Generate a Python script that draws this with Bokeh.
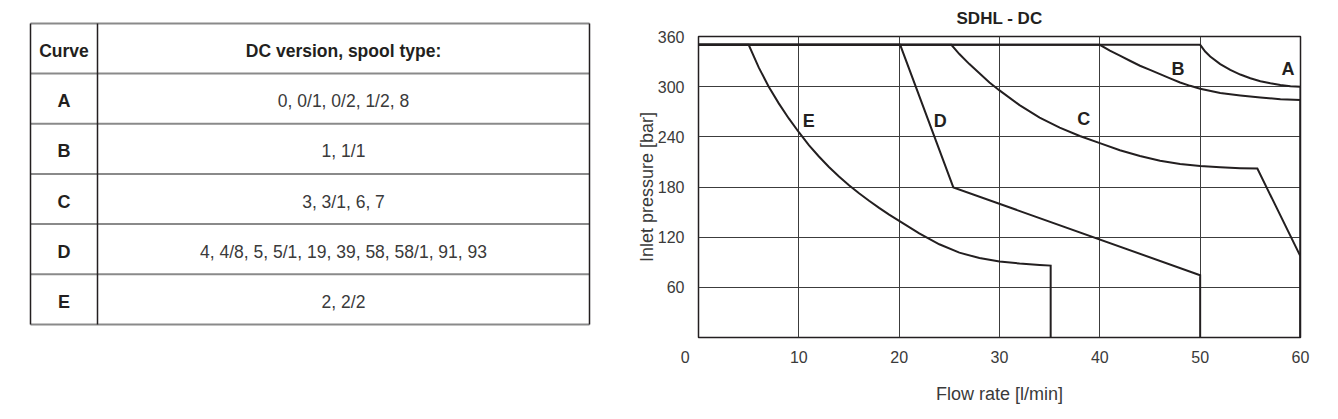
from bokeh.plotting import figure
from bokeh.models import Range1d, FixedTicker, ColumnDataSource
from bokeh.layouts import row
from bokeh.core.properties import value
from bokeh.embed import file_html
from bokeh.resources import INLINE

# ---------------- data ----------------
table_header = ["Curve", "DC version, spool type:"]
table_curves = ["A", "B", "C", "D", "E"]
table_spools = ["0, 0/1, 0/2, 1/2, 8",
                "1, 1/1",
                "3, 3/1, 6, 7",
                "4, 4/8, 5, 5/1, 19, 39, 58, 58/1, 91, 93",
                "2, 2/2"]

chart_title = "SDHL - DC"
x_label = "Flow rate [l/min]"
y_label = "Inlet pressure [bar]"
x_ticks = [0, 10, 20, 30, 40, 50, 60]
y_ticks = [60, 120, 180, 240, 300, 360]

A_x = [0, 50, 50.5, 51, 52, 53, 54, 55, 56, 57, 58, 59, 60, 60]
A_y = [350, 350, 342, 336, 327, 320, 314.5, 310, 306.5, 304, 302, 300.6, 300, 0]

B_x = [0, 40, 41, 42, 43, 44, 45, 46, 47, 48, 49, 50, 52, 54, 56, 58, 60, 60]
B_y = [350, 350, 343, 337, 331, 325, 320, 315, 310, 305, 301, 297.5, 292.5, 289.5, 287, 285, 284, 0]

C_x = [0, 25.2, 26, 27, 28, 29, 30, 32, 34, 36, 38, 40, 42, 44, 46, 48, 50, 52, 54, 55.7, 60, 60]
C_y = [350, 350, 339, 327, 316, 305, 295.5, 278, 263, 251, 241, 232.5, 224, 217, 211.5, 207.5, 205, 203.5, 202.5, 202, 97, 0]

D_x = [0, 20.1, 25.4, 50, 50]
D_y = [350, 350, 179.5, 74.5, 0]

E_x = [0, 5, 6, 7, 8, 9, 10, 11, 12, 13, 14, 15, 16, 17, 18, 19, 20, 22, 24, 26, 28, 30, 32, 34, 35.1, 35.1]
E_y = [350, 350, 323, 300, 280, 262, 245.5, 230, 216.5, 204, 192.5, 182, 172.5, 163.5, 155, 147, 139.5, 124.5, 111.5, 101.5, 95, 91, 88.5, 86.8, 86, 0]

curve_names = ["A", "B", "C", "D", "E"]
curve_label_x = [58.75, 47.8, 38.4, 24.1, 11.0]
curve_label_y = [321, 321, 261, 259, 259]

# ---------------- styles ----------------
INK = "#231f20"
TXT = "#3a3a3a"
FONT = "Liberation Sans"
PAGE_W, PAGE_H = 1338, 419
TABLE_W = 628


def no_frame_align(fig):
    if "frame_align" in fig.properties():
        fig.frame_align = False


# ---------------- table ----------------
tf = figure(width=TABLE_W, height=PAGE_H, x_range=Range1d(0, TABLE_W), y_range=Range1d(PAGE_H, 0),
            output_backend="svg", toolbar_location=None, min_border=0, title=None,
            x_axis_location=None, y_axis_location=None)
no_frame_align(tf)
tf.grid.visible = False
tf.outline_line_color = None

t_left, t_sep, t_right = 30, 97, 589
t_top, hdr_h, row_h = 23, 50, 50.2
n_rows = len(table_curves)
h_lines_y = [t_top, t_top + hdr_h] + [t_top + hdr_h + (i + 1) * row_h for i in range(n_rows)]
t_bottom = h_lines_y[-1]

tf.segment(x0=[t_left] * len(h_lines_y), y0=h_lines_y, x1=[t_right] * len(h_lines_y), y1=h_lines_y,
           line_color="#8a8a8a", line_width=2)
tf.segment(x0=[t_left, t_sep, t_right], y0=[t_top] * 3, x1=[t_left, t_sep, t_right], y1=[t_bottom] * 3,
           line_color=INK, line_width=1.5)

c1 = (t_left + t_sep) / 2
c2 = (t_sep + t_right) / 2
dy = 2.5
hdr_src = ColumnDataSource(dict(x=[c1, c2], y=[t_top + hdr_h / 2 + dy] * 2, t=table_header))
tf.text(x="x", y="y", text="t", source=hdr_src, text_align="center", text_baseline="middle",
        text_font=value(FONT), text_font_style="bold", text_font_size="17.5px", text_color=INK)
row_y = [t_top + hdr_h + row_h * (i + 0.5) + dy for i in range(n_rows)]
cur_src = ColumnDataSource(dict(x=[c1] * n_rows, y=row_y, t=table_curves))
tf.text(x="x", y="y", text="t", source=cur_src, text_align="center", text_baseline="middle",
        text_font=value(FONT), text_font_style="bold", text_font_size="18px", text_color=INK)
sp_src = ColumnDataSource(dict(x=[c2] * n_rows, y=row_y, t=table_spools))
tf.text(x="x", y="y", text="t", source=sp_src, text_align="center", text_baseline="middle",
        text_font=value(FONT), text_font_size="17.5px", text_color=TXT)

# ---------------- chart ----------------
p = figure(width=PAGE_W - TABLE_W, height=PAGE_H, x_range=Range1d(0, 60), y_range=Range1d(0, 360),
           output_backend="svg", toolbar_location=None, title=chart_title,
           min_border_left=70, min_border_right=38, min_border_top=36, min_border_bottom=82)
no_frame_align(p)
p.title.align = "center"
p.title.vertical_align = "top"
p.title.text_font = FONT
p.title.text_font_size = "17px"
p.title.text_font_style = "bold"
p.title.text_color = INK
p.title.standoff = 14

p.outline_line_color = INK
p.outline_line_width = 1.5
p.background_fill_color = "white"
p.border_fill_color = "white"

p.xaxis.ticker = FixedTicker(ticks=x_ticks)
p.yaxis.ticker = FixedTicker(ticks=y_ticks)
p.xgrid.ticker = FixedTicker(ticks=x_ticks)
p.ygrid.ticker = FixedTicker(ticks=y_ticks)
p.grid.grid_line_color = "#3c3c3c"
p.grid.grid_line_width = 1
# the "0" of the x axis sits at the lower-left corner, left of the frame
p.xaxis.major_label_overrides = {0: "0" + "\u00a0" * 6}

for ax in (p.xaxis, p.yaxis):
    ax.axis_line_color = None
    ax.major_tick_line_color = None
    ax.minor_tick_line_color = None
    ax.major_label_text_font = FONT
    ax.major_label_text_font_size = "16px"
    ax.major_label_text_color = TXT
    ax.axis_label_text_font = FONT
    ax.axis_label_text_font_size = "18px"
    ax.axis_label_text_font_style = "normal"
    ax.axis_label_text_color = TXT

p.xaxis.axis_label = x_label
p.yaxis.axis_label = y_label
p.xaxis.major_label_standoff = 5
p.xaxis.axis_label_standoff = 15
p.yaxis.major_label_standoff = 8
p.yaxis.axis_label_standoff = -2

for xs, ys in ((A_x, A_y), (B_x, B_y), (C_x, C_y), (D_x, D_y), (E_x, E_y)):
    p.line(xs, ys, line_color=INK, line_width=2, line_join="miter")

lbl_src = ColumnDataSource(dict(x=curve_label_x, y=curve_label_y, t=curve_names))
p.text(x="x", y="y", text="t", source=lbl_src, text_align="center", text_baseline="middle",
       text_font=value(FONT), text_font_style="bold", text_font_size="18px", text_color=INK)

layout = row(tf, p)
open("out.html", "w").write(file_html(layout, INLINE))
